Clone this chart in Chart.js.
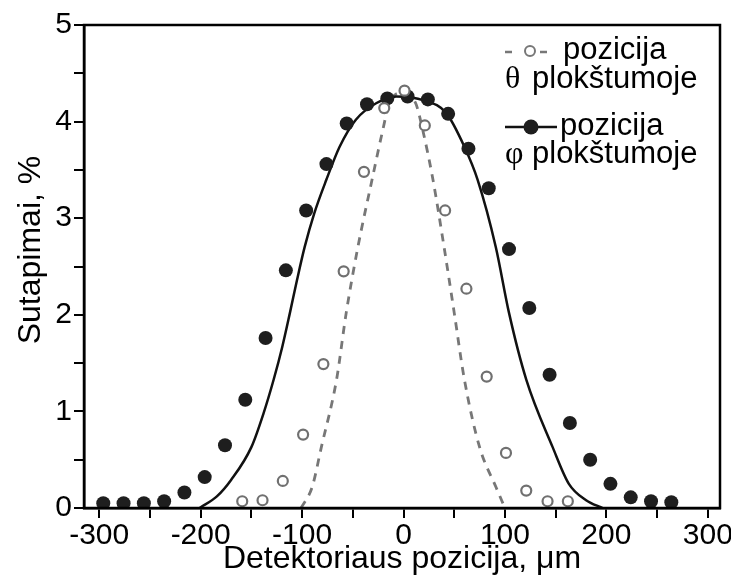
<!DOCTYPE html>
<html>
<head>
<meta charset="utf-8">
<script src="https://cdn.jsdelivr.net/npm/chart.js@4.4.0/dist/chart.umd.min.js"></script>
<style>
  html, body { margin: 0; padding: 0; background: #fff; }
</style>
</head>
<body>
<canvas id="chart" width="731" height="579"></canvas>
<script>
// measured points, phi plane (filled)
const phiX = [-296, -276, -256, -236, -216, -196, -176, -156, -136, -116, -96, -76, -56, -36, -16, 4,
  24, 44, 64, 84, 104, 124, 144, 164, 184, 204, 224, 244, 264];
const phiY = [0.05, 0.05, 0.05, 0.07, 0.16, 0.32, 0.65, 1.12, 1.76, 2.46, 3.08, 3.56, 3.98, 4.18, 4.24, 4.26,
  4.23, 4.08, 3.72, 3.31, 2.68, 2.07, 1.38, 0.88, 0.50, 0.25, 0.11, 0.07, 0.06];

// measured points, theta plane (open)
const thetaX = [-159, -139, -119, -99, -79, -59, -39, -19, 1, 21, 41, 62, 82, 101, 121, 142, 162];
const thetaY = [0.07, 0.08, 0.28, 0.76, 1.49, 2.45, 3.48, 4.14, 4.32, 3.96, 3.08, 2.27, 1.36, 0.57, 0.18, 0.07, 0.07];

// fitted curves
const phiFitX = [-201, -184, -170, -150, -138, -128, -119.5, -112, -105, -97.5, -88, -76, -63, -47, -27, -7,
  20, 42, 60, 73, 91, 104, 121, 147, 163, 180, 196];
const phiFitY = [0, 0.12, 0.29, 0.63, 0.98, 1.33, 1.67, 2.02, 2.36, 2.70, 3.05, 3.40, 3.74, 4.02, 4.19, 4.26,
  4.22, 4.09, 3.74, 3.40, 2.70, 2.02, 1.33, 0.63, 0.25, 0.08, 0];

const thetaFitX = [-101, -90, -81, -66, -56.5, -45, -31, -20.5, -14, -1, 12, 19, 29, 40, 50, 60, 75, 91, 100];
const thetaFitY = [0, 0.22, 0.63, 1.33, 2.02, 2.70, 3.40, 3.91, 4.19, 4.30, 4.19, 3.91, 3.40, 2.70, 2.02, 1.33, 0.63, 0.22, 0];

const font = "'Liberation Sans', Arial, sans-serif";
const serif = "'Liberation Serif', 'Times New Roman', serif";

function pts(xs, ys) {
  return xs.map((x, i) => ({ x: x, y: ys[i] }));
}

// box around plot, y title, legend
const framePlugin = {
  id: 'frame',
  afterDraw(chart) {
    const ctx = chart.ctx;
    const a = chart.chartArea;
    ctx.save();
    ctx.strokeStyle = '#000';
    ctx.lineWidth = 2.5;
    ctx.strokeRect(a.left, a.top, a.right - a.left, a.bottom - a.top);

    // y axis title (sits a bit above the middle in the original)
    ctx.save();
    ctx.translate(31, 250);
    ctx.rotate(-Math.PI / 2);
    ctx.fillStyle = '#000';
    ctx.font = '32px ' + font;
    ctx.textAlign = 'center';
    ctx.textBaseline = 'middle';
    ctx.fillText('Sutapimai, %', 0, 0);
    ctx.restore();

    const L = a.right - 215;
    const T = a.top;
    // theta sample
    ctx.strokeStyle = '#777';
    ctx.lineWidth = 2.5;
    ctx.beginPath();
    ctx.moveTo(L, T + 27); ctx.lineTo(L + 7, T + 27);
    ctx.moveTo(L + 35, T + 27); ctx.lineTo(L + 42, T + 27);
    ctx.stroke();
    ctx.lineWidth = 2;
    ctx.beginPath();
    ctx.arc(L + 25, T + 26, 5, 0, Math.PI * 2);
    ctx.stroke();
    // phi sample
    ctx.strokeStyle = '#111';
    ctx.lineWidth = 2.5;
    ctx.beginPath();
    ctx.moveTo(L, T + 102); ctx.lineTo(L + 52, T + 102);
    ctx.stroke();
    ctx.fillStyle = '#1e1e1e';
    ctx.beginPath();
    ctx.arc(L + 26, T + 102, 7.5, 0, Math.PI * 2);
    ctx.fill();

    ctx.fillStyle = '#000';
    ctx.textBaseline = 'alphabetic';
    ctx.textAlign = 'left';
    ctx.font = '31px ' + font;
    ctx.fillText('pozicija', L + 58, T + 34);
    ctx.fillText('plokštumoje', L + 27, T + 63);
    ctx.fillText('pozicija', L + 55, T + 110);
    ctx.fillText('plokštumoje', L + 27, T + 138);
    ctx.font = '32px ' + serif;
    ctx.fillText('θ', L, T + 63);
    ctx.fillText('φ', L, T + 138);
    ctx.restore();
  }
};

const ctx = document.getElementById('chart').getContext('2d');
const chart = new Chart(ctx, {
  type: 'scatter',
  data: {
    datasets: [
      {
        label: 'pozicija θ plokštumoje',
        data: pts(thetaX, thetaY),
        pointRadius: 5,
        backgroundColor: '#fff',
        borderColor: '#707070',
        borderWidth: 2.2,
        order: 0
      },
      {
        label: 'pozicija φ plokštumoje',
        data: pts(phiX, phiY),
        pointRadius: 7,
        backgroundColor: '#1e1e1e',
        borderWidth: 0,
        order: 1
      },
      {
        label: 'φ fit',
        data: pts(phiFitX, phiFitY),
        showLine: true,
        borderColor: '#111',
        borderWidth: 2.5,
        pointRadius: 0,
        cubicInterpolationMode: 'monotone',
        order: 2
      },
      {
        label: 'θ fit',
        data: pts(thetaFitX, thetaFitY),
        showLine: true,
        borderColor: '#777',
        borderWidth: 2.8,
        borderDash: [8, 7],
        pointRadius: 0,
        cubicInterpolationMode: 'monotone',
        order: 3
      }
    ]
  },
  options: {
    responsive: false,
    animation: false,
    layout: { padding: { top: 25, right: 11, left: 0, bottom: 0 } },
    plugins: {
      legend: { display: false },
      tooltip: { enabled: false }
    },
    scales: {
      x: {
        type: 'linear',
        min: -315,
        max: 312,
        ticks: {
          stepSize: 50,
          includeBounds: false,
          autoSkip: false,
          maxRotation: 0,
          color: '#000',
          padding: 0,
          font: { family: font, size: 30 },
          callback: (v) => (v % 100 === 0 ? String(v) : '')
        },
        grid: { drawOnChartArea: false, tickLength: 10, color: '#000', lineWidth: 2 },
        border: { color: '#000', width: 2.5 },
        title: {
          display: true,
          text: 'Detektoriaus pozicija, μm',
          color: '#000',
          font: { family: font, size: 32, lineHeight: 1 },
          padding: { top: 0, bottom: 4 }
        },
        afterFit: (s) => { s.height = 71; s.paddingLeft = 0; s.paddingRight = 0; }
      },
      y: {
        type: 'linear',
        min: 0,
        max: 5,
        ticks: {
          stepSize: 0.5,
          includeBounds: false,
          autoSkip: false,
          color: '#000',
          padding: 2,
          font: { family: font, size: 30 },
          callback: (v) => (Number.isInteger(v) ? String(v) : '')
        },
        grid: { drawOnChartArea: false, tickLength: 10, color: '#000', lineWidth: 2 },
        border: { color: '#000', width: 2.5 },
        title: { display: false },
        afterFit: (s) => { s.width = 84; s.paddingTop = 0; s.paddingBottom = 0; }
      }
    }
  },
  plugins: [framePlugin]
});
</script>
</body>
</html>
